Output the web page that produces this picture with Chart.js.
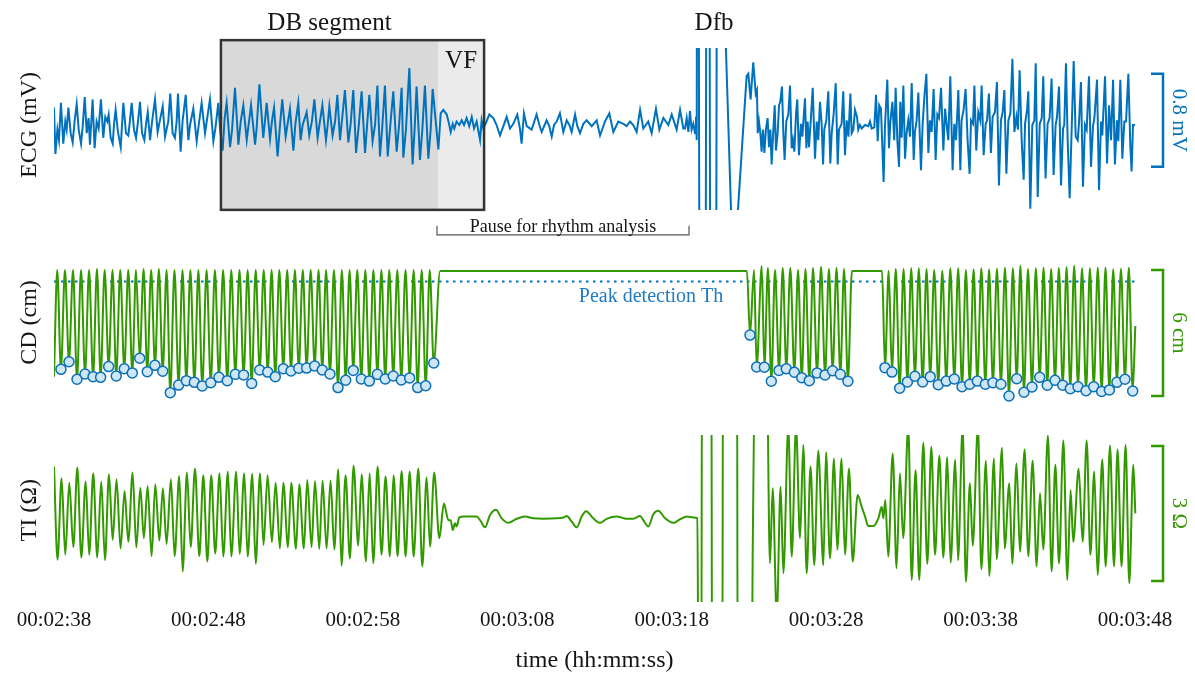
<!DOCTYPE html>
<html>
<head>
<meta charset="utf-8">
<title>ECG / CD / TI during CPR</title>
<script src="https://cdn.jsdelivr.net/npm/chart.js@4.4.1/dist/chart.umd.min.js"></script>
<style>
  html, body { margin: 0; padding: 0; background: #fff; }
  canvas { display: block; }
</style>
</head>
<body>
<canvas id="chart" width="1195" height="675"></canvas>
<script>
// time axis, seconds from start of recording
const timeTicks = [158, 168, 178, 188, 198, 208, 218, 228];
const tickLabels = ['00:02:38', '00:02:48', '00:02:58', '00:03:08', '00:03:18', '00:03:28', '00:03:38', '00:03:48'];

// ECG (mV) as [t, v]
const ecgCpr1 = [[158.00,0.15],[158.09,-0.25],[158.22,-0.04],[158.32,-0.13],[158.45,0.19],[158.60,-0.16],[158.73,0.03],[158.82,-0.04],[158.93,0.15],[159.08,-0.07],[159.21,-0.15],[159.34,0.04],[159.47,0.18],[159.60,-0.04],[159.75,-0.16],[159.86,-0.01],[159.99,0.24],[160.12,-0.07],[160.24,0.06],[160.33,-0.17],[160.50,0.22],[160.63,-0.20],[160.76,0.03],[160.89,-0.03],[161.04,0.22],[161.19,-0.11],[161.32,0.07],[161.45,0.03],[161.54,0.09],[161.67,-0.11],[161.80,-0.16],[161.89,0.01],[161.99,0.13],[162.14,-0.06],[162.32,-0.19],[162.40,-0.01],[162.49,0.19],[162.66,-0.07],[162.81,-0.09],[162.92,0.04],[163.03,0.19],[163.18,-0.04],[163.31,-0.11],[163.44,0.03],[163.57,0.20],[163.70,-0.07],[163.85,-0.13],[163.96,0.01],[164.07,0.11],[164.22,-0.13],[164.35,0.03],[164.54,0.22],[164.71,-0.06],[164.86,0.04],[165.04,0.16],[165.19,-0.10],[165.30,-0.03],[165.40,0.03],[165.53,0.27],[165.68,-0.07],[165.83,-0.11],[165.94,0.03],[166.03,0.27],[166.20,-0.23],[166.33,0.04],[166.53,0.26],[166.70,-0.13],[166.81,0.00],[167.02,0.14],[167.24,-0.14],[167.37,0.00],[167.56,0.19],[167.78,-0.07],[167.89,0.03],[168.10,0.22],[168.32,-0.14],[168.45,-0.03],[168.64,0.19],[168.75,-0.03]];
const ecgDB = [[168.92,-0.22],[169.05,0.06],[169.18,0.19],[169.40,-0.19],[169.53,-0.04],[169.72,0.32],[169.94,-0.17],[170.09,0.03],[170.26,0.17],[170.48,-0.13],[170.60,0.00],[170.76,0.17],[171.02,-0.17],[171.12,-0.03],[171.30,0.35],[171.55,-0.11],[171.66,0.03],[171.77,0.19],[171.99,-0.12],[172.12,0.04],[172.25,0.15],[172.48,-0.27],[172.63,-0.01],[172.78,0.22],[173.00,-0.10],[173.13,0.01],[173.28,0.14],[173.50,-0.22],[173.63,0.01],[173.82,0.19],[173.97,-0.13],[174.10,0.00],[174.36,0.11],[174.53,-0.09],[174.71,0.04],[174.86,0.22],[175.07,-0.11],[175.22,0.03],[175.38,0.17],[175.61,-0.13],[175.72,0.00],[175.83,0.16],[176.04,-0.09],[176.20,0.03],[176.35,0.26],[176.52,-0.13],[176.67,0.07],[176.84,0.30],[177.06,-0.15],[177.21,0.01],[177.38,0.30],[177.56,-0.24],[177.73,-0.01],[177.92,0.29],[178.14,-0.24],[178.27,-0.01],[178.42,0.26],[178.63,-0.14],[178.79,0.00],[178.94,0.34],[179.11,-0.27],[179.26,-0.01],[179.43,0.34],[179.61,-0.27],[179.76,-0.03],[179.97,0.29],[180.19,-0.23],[180.34,-0.01],[180.51,0.32],[180.62,-0.28],[180.79,-0.04],[181.01,0.49],[181.22,-0.34],[181.35,-0.04],[181.48,0.33],[181.70,-0.30],[181.85,-0.04],[182.02,0.34],[182.24,-0.29],[182.39,-0.04],[182.52,0.31],[182.89,-0.21]];
const ecgPause = [[183.04,0.10],[183.21,0.13],[183.43,0.09],[183.58,0.01],[183.69,-0.06],[183.82,0.01],[183.92,-0.03],[184.07,0.03],[184.25,0.00],[184.40,0.04],[184.55,0.00],[184.72,0.06],[184.89,-0.01],[185.05,0.07],[185.20,-0.03],[185.37,0.03],[185.59,-0.13],[185.69,0.04],[185.80,-0.03],[185.91,0.00],[186.19,0.09],[186.45,0.06],[186.66,0.00],[186.88,-0.09],[187.10,-0.01],[187.31,0.07],[187.53,-0.03],[187.74,0.01],[188.00,0.09],[188.17,-0.03],[188.28,-0.16],[188.43,0.10],[188.61,-0.01],[188.93,-0.04],[189.25,0.09],[189.43,0.00],[189.58,-0.06],[189.90,0.04],[190.07,-0.01],[190.23,-0.10],[190.38,0.00],[190.55,0.03],[190.76,0.10],[190.98,-0.06],[191.20,0.04],[191.37,0.00],[191.52,-0.06],[191.74,0.09],[191.89,-0.01],[192.06,-0.07],[192.28,0.01],[192.49,0.04],[192.82,-0.01],[193.14,0.04],[193.36,-0.09],[193.68,0.03],[193.96,0.10],[194.22,-0.06],[194.54,0.03],[194.87,0.01],[195.08,-0.01],[195.30,0.03],[195.51,0.00],[195.73,-0.06],[195.95,0.13],[196.16,-0.03],[196.48,0.03],[196.70,-0.07],[196.98,0.14],[197.20,-0.04],[197.46,0.06],[197.78,0.00],[198.00,0.09],[198.32,-0.04],[198.54,0.13],[198.75,-0.03],[198.86,-0.03],[198.97,0.06],[199.08,-0.06],[199.18,0.12],[199.29,-0.04],[199.40,0.01],[199.51,-0.07],[199.57,0.07],[199.62,-0.13]];
// defibrillation artefact, saturates far outside the panel
const ecgDfb = [[199.64,3],[199.72,3],[199.82,-3],[200.18,-3],[200.26,3],[200.42,3],[200.52,-3],[200.86,-3],[200.94,3],[201.49,3],[201.51,0.66],[201.84,-0.73],[201.86,-3],[202.27,-3],[202.29,-0.73]];
const ecgCpr2 = [[202.85,0.42],[202.96,0.44],[203.11,0.22],[203.28,0.54],[203.44,0.27],[203.52,0.30],[203.57,-0.07],[203.65,0.03],[203.74,-0.07],[203.82,-0.23],[203.91,-0.04],[204.00,-0.24],[204.10,-0.04],[204.21,0.06],[204.30,-0.19],[204.39,-0.04],[204.47,-0.34],[204.58,-0.04],[204.67,0.17],[204.75,-0.22],[204.86,-0.07],[204.95,0.17],[205.03,0.20],[205.14,0.33],[205.23,-0.07],[205.31,-0.30],[205.42,0.03],[205.55,0.09],[205.66,0.34],[205.77,-0.20],[205.85,-0.13],[205.94,-0.23],[206.05,0.10],[206.13,0.22],[206.24,-0.26],[206.37,0.01],[206.46,-0.10],[206.54,0.06],[206.63,0.23],[206.72,-0.20],[206.80,0.03],[206.89,-0.19],[207.02,0.07],[207.13,0.32],[207.28,-0.29],[207.39,0.03],[207.49,-0.13],[207.60,0.20],[207.71,0.01],[207.80,-0.34],[207.88,-0.04],[208.01,0.04],[208.14,0.29],[208.27,-0.33],[208.36,-0.07],[208.49,0.10],[208.62,0.36],[208.75,-0.34],[208.83,-0.04],[209.00,0.01],[209.11,0.29],[209.22,-0.26],[209.33,0.04],[209.44,-0.10],[209.57,0.27],[209.65,-0.07],[209.76,-0.04],[209.87,0.13],[210.00,0.07],[210.08,-0.04],[210.19,0.00],[210.30,-0.03],[210.52,0.00],[210.73,-0.01],[210.84,0.03],[210.95,-0.03],[211.12,-0.02],[211.23,0.26],[211.34,-0.14],[211.44,0.17],[211.55,0.14],[211.64,-0.19],[211.72,-0.49],[211.81,-0.01],[211.96,0.39],[212.07,-0.20],[212.16,0.03],[212.29,0.20],[212.41,-0.13],[212.50,0.32],[212.61,-0.13],[212.72,-0.36],[212.80,0.20],[212.89,-0.11],[213.00,0.34],[213.11,-0.29],[213.21,-0.07],[213.32,0.04],[213.43,-0.10],[213.54,0.36],[213.67,-0.30],[213.75,-0.06],[213.86,0.04],[213.97,0.28],[214.14,-0.39],[214.25,0.01],[214.36,0.24],[214.49,0.44],[214.62,-0.24],[214.72,0.04],[214.83,-0.06],[214.96,0.31],[215.09,-0.30],[215.20,0.09],[215.31,0.06],[215.44,0.32],[215.59,-0.22],[215.70,0.14],[215.80,0.01],[215.91,-0.13],[216.04,0.42],[216.19,-0.39],[216.30,0.01],[216.41,-0.13],[216.56,0.30],[216.69,-0.39],[216.77,0.04],[216.90,0.13],[217.03,0.31],[217.16,-0.13],[217.29,-0.42],[217.38,0.04],[217.51,0.01],[217.60,0.34],[217.72,-0.22],[217.85,0.11],[217.98,0.04],[218.07,0.34],[218.20,-0.26],[218.33,0.01],[218.42,0.04],[218.54,0.27],[218.67,-0.24],[218.78,0.07],[218.93,0.11],[219.06,0.37],[219.19,-0.52],[219.32,0.04],[219.43,0.11],[219.54,0.30],[219.67,-0.42],[219.80,0.04],[219.93,0.10],[220.06,0.57],[220.19,-0.06],[220.32,0.07],[220.42,-0.04],[220.53,0.47],[220.66,-0.13],[220.79,-0.47],[220.88,0.01],[221.01,0.13],[221.09,0.29],[221.22,-0.72],[221.35,0.00],[221.48,0.04],[221.57,0.53],[221.70,-0.62],[221.83,0.01],[221.96,0.06],[222.06,0.42],[222.21,-0.46],[222.34,0.01],[222.47,0.06],[222.60,0.40],[222.73,-0.43],[222.86,0.00],[222.95,0.07],[223.08,0.33],[223.21,-0.52],[223.34,-0.03],[223.42,0.00],[223.53,0.53],[223.64,-0.13],[223.77,-0.63],[223.90,-0.03],[224.03,0.55],[224.16,-0.10],[224.29,-0.13],[224.37,0.01],[224.50,0.37],[224.63,-0.53],[224.76,0.00],[224.87,-0.04],[225.02,0.42],[225.15,-0.36],[225.28,-0.01],[225.37,0.06],[225.54,0.39],[225.67,-0.56],[225.80,0.03],[225.88,-0.09],[226.06,0.42],[226.19,-0.33],[226.32,0.17],[226.45,-0.13],[226.58,0.39],[226.70,-0.34],[226.83,0.04],[226.92,-0.14],[227.05,0.39],[227.18,-0.29],[227.31,0.03],[227.42,0.03],[227.57,0.44],[227.70,-0.19],[227.78,-0.40],[227.87,0.00],[228.00,0.00]];

// compression depth (cm), [t, depth]
const cdCpr1 = [[158.00,5.08],[158.21,0],[158.45,4.73],[158.71,0],[158.97,4.37],[159.23,0],[159.49,5.20],[159.75,0],[160.01,4.95],[160.27,0],[160.53,5.08],[160.78,-0.05],[161.02,5.11],[161.28,0],[161.54,4.60],[161.79,0],[162.03,5.05],[162.29,0],[162.55,4.70],[162.81,0],[163.07,4.90],[163.31,0],[163.55,4.20],[163.80,-0.05],[164.04,4.84],[164.29,0],[164.54,4.54],[164.79,-0.05],[165.04,4.82],[165.29,0],[165.53,5.84],[165.80,0],[166.07,5.48],[166.32,0],[166.57,5.27],[166.83,0],[167.09,5.35],[167.35,0],[167.60,5.52],[167.88,0],[168.15,5.37],[168.42,0],[168.68,5.11],[168.95,0],[169.22,5.27],[169.48,0],[169.74,4.97],[170.01,0],[170.28,5.00],[170.54,0],[170.80,5.40],[171.06,0],[171.32,4.76],[171.58,0],[171.84,4.86],[172.09,0],[172.33,5.08],[172.59,0],[172.85,4.70],[173.10,0],[173.35,4.81],[173.60,0],[173.85,4.68],[174.11,0],[174.36,4.67],[174.62,0],[174.88,4.57],[175.13,0],[175.37,4.76],[175.62,0],[175.87,4.95],[176.13,0],[176.39,5.60],[176.64,0],[176.89,5.25],[177.14,0],[177.38,4.78],[177.64,0],[177.90,5.19],[178.16,0],[178.42,5.29],[178.68,0],[178.94,4.97],[179.20,0],[179.45,5.19],[179.71,0],[179.97,5.05],[180.23,0],[180.49,5.24],[180.76,0],[181.03,5.14],[181.29,0],[181.55,5.60],[181.81,0],[182.07,5.51],[182.33,0],[182.59,4.43]];
const cdPause = [[183.00,0.05],[202.87,0.05]];
const cdCpr2 = [[203.07,3.10],[203.33,0],[203.50,4.62],[203.83,-0.19],[204.00,4.63],[204.23,-0.10],[204.45,5.30],[204.69,0],[204.95,4.78],[205.19,-0.10],[205.42,4.70],[205.68,-0.10],[205.94,4.87],[206.18,0],[206.42,5.13],[206.66,-0.05],[206.91,5.27],[207.15,-0.10],[207.41,4.90],[207.67,-0.15],[207.93,5.00],[208.18,-0.05],[208.42,4.80],[208.67,-0.10],[208.92,4.97],[209.16,-0.05],[209.41,5.30],[209.67,0.05],[211.62,0.05]];
const cdCpr3 = [[211.81,4.65],[212.05,0.03],[212.26,4.86],[212.51,-0.05],[212.76,5.63],[213.01,-0.05],[213.26,5.33],[213.51,-0.08],[213.75,5.06],[214.00,-0.08],[214.25,5.33],[214.50,-0.05],[214.74,5.08],[215.00,0],[215.26,5.46],[215.52,0.03],[215.78,5.29],[216.04,-0.08],[216.30,5.19],[216.55,-0.08],[216.80,5.56],[217.05,0],[217.30,5.44],[217.55,-0.03],[217.79,5.29],[218.05,-0.08],[218.31,5.44],[218.55,-0.03],[218.80,5.37],[219.06,-0.06],[219.32,5.44],[219.58,-0.11],[219.84,6.00],[220.09,-0.08],[220.34,5.18],[220.58,-0.20],[220.81,5.82],[221.07,-0.05],[221.33,5.57],[221.58,-0.08],[221.83,5.11],[222.08,-0.11],[222.32,5.49],[222.57,-0.05],[222.82,5.25],[223.07,-0.10],[223.32,5.49],[223.57,-0.14],[223.81,5.65],[224.06,-0.20],[224.31,5.56],[224.57,-0.08],[224.83,5.75],[225.08,-0.08],[225.33,5.56],[225.59,-0.11],[225.84,5.78],[226.09,-0.12],[226.34,5.71],[226.59,-0.03],[226.83,5.35],[227.09,-0.06],[227.35,5.20],[227.60,-0.11],[227.85,5.76],[228.02,2.67]];
const peakThreshold = 0.55; // cm

// thoracic impedance (ohm), [t, v]
const tiCpr1 = [[158.00,1.12],[158.23,-0.95],[158.49,0.86],[158.73,-0.84],[158.99,0.76],[159.25,-0.67],[159.51,1.10],[159.77,-0.90],[160.05,0.79],[160.28,-0.84],[160.54,0.97],[160.80,-0.90],[161.06,0.79],[161.30,-0.96],[161.56,0.95],[161.80,-0.51],[162.05,0.84],[162.31,-0.70],[162.57,0.58],[162.81,-0.55],[163.09,0.99],[163.33,-0.68],[163.59,0.65],[163.82,-0.47],[164.06,0.69],[164.32,-0.87],[164.56,0.73],[164.82,-0.53],[165.05,0.64],[165.29,-0.60],[165.57,0.84],[165.81,-0.87],[166.11,0.91],[166.33,-1.21],[166.61,0.99],[166.85,-0.67],[167.13,1.08],[167.41,-0.87],[167.67,0.93],[167.93,-0.99],[168.18,0.93],[168.44,-0.81],[168.72,0.97],[168.96,-0.88],[169.26,1.01],[169.48,-0.88],[169.80,1.01],[170.02,-0.82],[170.32,0.97],[170.54,-0.88],[170.84,0.96],[171.06,-1.04],[171.34,0.97],[171.57,-0.62],[171.83,0.93],[172.11,-0.56],[172.35,0.76],[172.63,-0.70],[172.85,0.76],[173.15,-0.67],[173.36,0.76],[173.67,-0.71],[173.88,0.73],[174.18,-0.70],[174.40,0.82],[174.68,-0.67],[174.90,0.80],[175.18,-0.71],[175.39,0.81],[175.65,-0.70],[175.91,0.81],[176.15,-0.72],[176.41,1.06],[176.62,-1.08],[176.88,0.93],[177.16,-0.92],[177.40,1.14],[177.70,-0.64],[177.92,0.95],[178.20,-0.99],[178.44,0.97],[178.67,-1.03],[178.96,1.12],[179.21,-0.84],[179.47,0.90],[179.75,-0.88],[179.99,0.93],[180.25,-0.87],[180.51,1.02],[180.77,-0.88],[181.03,1.01],[181.29,-0.88],[181.59,1.08],[181.85,-1.10],[182.13,0.88],[182.35,-0.66],[182.62,0.99],[182.95,-0.47]];
const tiPause = [[183.25,0.30],[183.54,-0.07],[183.69,-0.07],[183.82,-0.29],[183.97,-0.14],[184.07,-0.21],[184.25,-0.01],[184.51,0.01],[184.94,0.01],[185.37,0.01],[185.59,-0.07],[185.91,-0.23],[186.23,0.04],[186.62,0.16],[186.99,-0.03],[187.42,-0.13],[187.96,-0.04],[188.50,0.01],[189.04,-0.03],[189.69,-0.04],[190.55,-0.03],[190.98,-0.01],[191.20,0.02],[191.52,-0.10],[191.85,-0.23],[192.17,0.01],[192.45,0.13],[192.92,-0.03],[193.36,-0.13],[193.79,-0.04],[194.44,0.01],[195.08,-0.04],[195.51,-0.04],[195.95,0.02],[196.16,-0.07],[196.49,-0.21],[196.81,0.06],[197.13,0.14],[197.57,-0.03],[198.10,-0.13],[198.54,-0.05],[198.97,0.01],[199.40,-0.01],[199.66,-0.03]];
const tiDfb = [[199.74,-4],[199.92,-4],[199.96,4],[200.57,4],[200.61,-4],[201.28,-4],[201.32,4],[202.23,4],[202.27,-4],[203.18,-4],[203.24,-0.96],[203.46,4],[204.13,4],[204.36,-1.03]];
const tiCpr2 = [[204.54,0.64],[204.80,-2.2],[205.05,0.67],[205.23,-1.25],[205.55,2.0],[205.77,-0.88],[206.05,2.0],[206.31,-0.47],[206.52,1.60],[206.74,-1.25],[206.99,1.12],[207.23,-1.07],[207.49,1.47],[207.82,-1.07],[207.99,1.44],[208.25,-0.92],[208.51,1.30],[208.72,-0.73],[209.00,1.30],[209.22,-0.84],[209.48,1.08],[209.72,-0.99],[210.04,0.49],[210.30,0.23],[210.52,0.01],[210.73,-0.20],[211.06,-0.20],[211.38,-0.03],[211.60,0.23],[211.70,-0.03],[211.83,0.38],[212.02,-0.88],[212.31,1.41],[212.56,-1.14],[212.78,0.97],[212.99,-0.47],[213.32,2.0],[213.54,-1.40],[213.79,1.04],[214.03,-1.40],[214.29,1.65],[214.55,-1.04],[214.81,1.56],[215.05,-0.84],[215.33,1.36],[215.59,-0.90],[215.84,1.33],[216.06,-1.01],[216.36,1.27],[216.54,-0.96],[216.84,2.0],[217.05,-1.44],[217.31,0.75],[217.49,-0.64],[217.83,2.0],[218.05,-1.16],[218.35,1.25],[218.56,-1.31],[218.87,1.30],[219.04,-0.94],[219.39,1.54],[219.56,-0.70],[219.86,0.75],[220.05,-1.04],[220.33,1.19],[220.55,-0.77],[220.85,1.50],[221.09,-0.87],[221.37,1.25],[221.63,-1.10],[221.85,0.53],[222.06,-0.72],[222.36,1.81],[222.60,-1.21],[222.84,1.16],[223.08,-1.03],[223.36,1.70],[223.62,-1.40],[223.83,0.60],[224.00,-0.55],[224.35,1.07],[224.61,-0.55],[224.87,1.70],[225.11,-0.84],[225.36,1.01],[225.58,-1.29],[225.88,1.28],[226.10,-1.10],[226.38,1.59],[226.64,-1.10],[226.87,1.50],[227.13,-1.10],[227.39,1.60],[227.63,-1.47],[227.89,1.16],[228.02,0.08]];

// annotations (data units)
const dbWindow = [168.81, 185.85];
const vfStart = 182.87;
const dbBoxMv = [-0.73, 0.73];
const pauseWindow = [182.80, 199.12];
const dfbTime = 200.74;
const thLabelTime = 196.66;
const ecgBar = [-0.36, 0.44];   // 0.8 mV
const cdBar = [0, 6];           // 6 cm
const tiBar = [-1.42, 1.58];    // 3 ohm

const blue = '#0072bd';
const green = '#339900';
const ink = '#151515';
const serif = '"Liberation Serif", "DejaVu Serif", serif';

const toXY = arr => arr.map(([x, y]) => ({ x, y }));
const ecg = toXY([...ecgCpr1, ...ecgDB, ...ecgPause, ...ecgDfb, ...ecgCpr2]);
const cd = toXY([...cdCpr1, ...cdPause, ...cdCpr2, ...cdCpr3]);
const ti = toXY([...tiCpr1, ...tiPause, ...tiDfb, ...tiCpr2]);
// detected compressions = local depth maxima
const peaks = cd.filter((p, i) => i > 0 && i < cd.length - 1 && p.y > 1 && p.y > cd[i - 1].y && p.y > cd[i + 1].y);

function text(ctx, s, x, y, size, color, angle = 0, baseline = 'middle') {
  ctx.save();
  ctx.translate(x, y);
  ctx.rotate(angle);
  ctx.font = `${size}px ${serif}`;
  ctx.fillStyle = color;
  ctx.textAlign = 'center';
  ctx.textBaseline = baseline;
  ctx.fillText(s, 0, 0);
  ctx.restore();
}

function bracket(ctx, xr, y0, y1, color) {
  ctx.save();
  ctx.strokeStyle = color;
  ctx.lineWidth = 2.5;
  ctx.beginPath();
  ctx.moveTo(xr - 12, y0); ctx.lineTo(xr, y0); ctx.lineTo(xr, y1); ctx.lineTo(xr - 12, y1);
  ctx.stroke();
  ctx.restore();
}

const overlay = {
  id: 'overlay',
  beforeDatasetsDraw(chart) {
    const { ctx, scales: { x, yE } } = chart;
    const l = x.getPixelForValue(dbWindow[0]), m = x.getPixelForValue(vfStart), r = x.getPixelForValue(dbWindow[1]);
    const t = yE.getPixelForValue(dbBoxMv[1]), b = yE.getPixelForValue(dbBoxMv[0]);
    ctx.save();
    ctx.fillStyle = '#d9d9d9'; ctx.fillRect(l, t, m - l, b - t);
    ctx.fillStyle = '#ebebeb'; ctx.fillRect(m, t, r - m, b - t);
    ctx.restore();
  },
  afterDatasetsDraw(chart) {
    const { ctx, chartArea: area, scales: { x, yE, yCD, yTI } } = chart;
    const l = x.getPixelForValue(dbWindow[0]), m = x.getPixelForValue(vfStart), r = x.getPixelForValue(dbWindow[1]);
    const t = yE.getPixelForValue(dbBoxMv[1]), b = yE.getPixelForValue(dbBoxMv[0]);
    ctx.save();
    ctx.strokeStyle = '#333';
    ctx.lineWidth = 2.5;
    ctx.strokeRect(l, t, r - l, b - t);
    ctx.restore();

    text(ctx, 'DB segment', (l + m) / 2, t - 10, 25, ink, 0, 'alphabetic');
    text(ctx, 'VF', (m + r) / 2, t + 28, 25, ink, 0, 'alphabetic');
    text(ctx, 'Dfb', x.getPixelForValue(dfbTime), t - 10, 25, ink, 0, 'alphabetic');

    // pause bracket under the ECG
    const p0 = x.getPixelForValue(pauseWindow[0]), p1 = x.getPixelForValue(pauseWindow[1]);
    const py = b + 25;
    ctx.save();
    ctx.strokeStyle = '#555';
    ctx.lineWidth = 1.2;
    ctx.beginPath();
    ctx.moveTo(p0, py - 9); ctx.lineTo(p0, py); ctx.lineTo(p1, py); ctx.lineTo(p1, py - 9);
    ctx.stroke();
    ctx.restore();
    text(ctx, 'Pause for rhythm analysis', (p0 + p1) / 2, py - 3, 18, ink, 0, 'alphabetic');

    text(ctx, 'Peak detection Th', x.getPixelForValue(thLabelTime), yCD.getPixelForValue(peakThreshold) + 20, 20, '#1f7bc2', 0, 'alphabetic');

    // y labels on the left
    const lx = area.left - 24;
    text(ctx, 'ECG (mV)', lx, yE.getPixelForValue(0), 24, ink, -Math.PI / 2);
    text(ctx, 'CD (cm)', lx, yCD.getPixelForValue(2.5), 24, ink, -Math.PI / 2);
    text(ctx, 'TI (\u03a9)', lx, yTI.getPixelForValue(0.15), 24, ink, -Math.PI / 2);

    // scale bars on the right
    const xr = area.right + 28, tx = area.right + 44;
    const e0 = yE.getPixelForValue(ecgBar[1]), e1 = yE.getPixelForValue(ecgBar[0]);
    bracket(ctx, xr, e0, e1, blue);
    text(ctx, '0.8 mV', tx, (e0 + e1) / 2, 21, blue, Math.PI / 2);
    const c0 = yCD.getPixelForValue(cdBar[0]), c1 = yCD.getPixelForValue(cdBar[1]);
    bracket(ctx, xr, c0, c1, green);
    text(ctx, '6 cm', tx, (c0 + c1) / 2, 21, green, Math.PI / 2);
    const i0 = yTI.getPixelForValue(tiBar[1]), i1 = yTI.getPixelForValue(tiBar[0]);
    bracket(ctx, xr, i0, i1, green);
    text(ctx, '3 \u03a9', tx, (i0 + i1) / 2, 21, green, Math.PI / 2);
  }
};

new Chart(document.getElementById('chart'), {
  type: 'line',
  data: {
    datasets: [
      {
        label: 'Detected compressions', type: 'scatter', data: peaks, yAxisID: 'yCD',
        pointRadius: 5, pointBorderWidth: 1.5, pointBackgroundColor: '#cfe6f7', pointBorderColor: '#0b6fb5',
        showLine: false, clip: 10
      },
      {
        label: 'CD', data: cd, yAxisID: 'yCD', borderColor: green, borderWidth: 2,
        pointRadius: 0, cubicInterpolationMode: 'monotone', clip: { left: 0, right: 3, top: 0, bottom: 0 }
      },
      {
        label: 'Peak detection Th', data: [{ x: 158, y: peakThreshold }, { x: 228, y: peakThreshold }], yAxisID: 'yCD',
        borderColor: blue, borderWidth: 2, borderDash: [2.5, 4.5], pointRadius: 0
      },
      {
        label: 'ECG', data: ecg, yAxisID: 'yE', borderColor: blue, borderWidth: 2,
        pointRadius: 0, tension: 0, clip: { left: 0, right: 2, top: -18, bottom: -396 }
      },
      {
        label: 'TI', data: ti, yAxisID: 'yTI', borderColor: green, borderWidth: 2,
        pointRadius: 0, cubicInterpolationMode: 'monotone', clip: { left: 0, right: 3, top: -405, bottom: -4 }
      }
    ]
  },
  options: {
    responsive: false,
    animation: false,
    devicePixelRatio: 1,
    events: [],
    layout: { padding: { left: 54, right: 60, top: 30, bottom: 0 } },
    plugins: { legend: { display: false }, tooltip: { enabled: false } },
    scales: {
      x: {
        type: 'linear', min: 158, max: 228,
        grid: { display: false, drawTicks: false },
        border: { display: false },
        afterBuildTicks: s => { s.ticks = timeTicks.map(v => ({ value: v })); },
        afterFit: s => { s.height = 69; },
        ticks: {
          autoSkip: false, maxRotation: 0, padding: 2, color: ink,
          font: { family: serif, size: 21 },
          callback: v => tickLabels[timeTicks.indexOf(v)]
        },
        title: {
          display: true, text: 'time (hh:mm:ss)', color: ink,
          font: { family: serif, size: 24 }, padding: { top: 0, bottom: 0 }
        }
      },
      yE: { type: 'linear', display: false, min: -4.1376, max: 0.8172 },
      yCD: { type: 'linear', display: false, reverse: true, min: -11.4286, max: 16.0 },
      yTI: { type: 'linear', display: false, min: -1.9778, max: 10.8222 }
    }
  },
  plugins: [overlay]
});
</script>
</body>
</html>
